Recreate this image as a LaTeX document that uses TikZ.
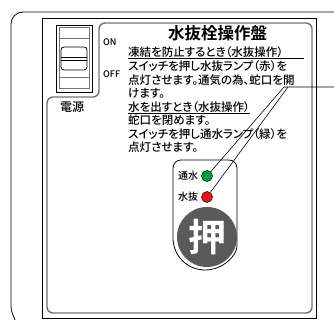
\documentclass[tikz,border=0pt]{standalone}
\usepackage{fontspec}
\usepackage{xcolor}
\newfontfamily\jpfont[RawFeature=+palt]{Noto Sans CJK JP Medium}
\newfontfamily\jpbold{Noto Sans CJK JP Bold}
\XeTeXlinebreaklocale "ja"
\XeTeXlinebreakskip=0pt plus 2pt
\definecolor{lampgreen}{HTML}{00A040}
\definecolor{lampred}{HTML}{E8141B}
\definecolor{buttongray}{HTML}{5A5A5A}

\begin{document}
\begin{tikzpicture}[x=1pt,y=1pt]
    % Define styles
    \tikzstyle{frame}=[draw, line width=0.8pt]
    \tikzstyle{innerframe}=[draw=black!55, line width=1.4pt, rounded corners=6pt]
    \tikzstyle{body}=[anchor=west, inner sep=0pt, font=\jpfont\fontsize{11.5}{13}\selectfont]
    \tikzstyle{small}=[inner sep=0pt, font=\jpfont\fontsize{9}{10}\selectfont]
    \tikzstyle{lamp}=[circle, draw, line width=0.5pt, minimum size=11pt, inner sep=0pt]

    \useasboundingbox (0,0) rectangle (334,-320);

    % Outer casing
    \draw[frame] (334,-12) -- (23,-12) arc[start angle=90, end angle=180, radius=12] -- (11,-306) to[out=-90, in=110] (15,-320);

    % Panel frame
    \draw[frame] (42,-18) rectangle (316,-318);
    \draw[innerframe] (47,-313) -- (47,-97) -- (99,-97) -- (99,-23) -- (312,-23) -- (312,-313) -- cycle;

    % Power switch
    \draw[frame] (56,-25) rectangle (92,-92);
    \draw[draw=black!55, line width=1pt] (59,-28) rectangle (89,-89);
    \draw[black!55] (59,-38) -- (89,-38);
    \draw[black!55] (59,-77) -- (89,-77);
    \draw[frame, fill=white, rounded corners=3pt] (61,-47) rectangle (87,-70);
    \draw (61,-57) -- (87,-57);
    \draw (61,-60) -- (87,-60);

    \node[small, anchor=west] (sw_on) at (103,-42) {ON};
    \node[small, anchor=west] (sw_off) at (103,-74) {OFF};
    \node[inner sep=0pt, font=\jpfont\fontsize{12}{13}\selectfont] (sw_label) at (72,-107) {電源};

    % Title and instructions
    \node[body, font=\jpbold\fontsize{16.5}{18}\selectfont] (title) at (168,-33) {\makebox[105pt][s]{水抜栓操作盤}};
    \node[body] (line1) at (128,-52) {\makebox[176pt][s]{凍結を防止するとき（水抜操作）}};
    \node[body] (line2) at (128,-66) {\makebox[176pt][s]{スイッチを押し水抜ランプ（赤）を}};
    \node[body] (line3) at (128,-80) {\makebox[176pt][s]{点灯させます。通気の為、蛇口を開}};
    \node[body] (line4) at (128,-93.5) {けます。};
    \node[body] (line5) at (128,-107) {水を出すとき（水抜操作）};
    \node[body] (line6) at (128,-120.5) {蛇口を閉めます。};
    \node[body] (line7) at (128,-134) {\makebox[176pt][s]{スイッチを押し通水ランプ（緑）を}};
    \node[body] (line8) at (128,-147.5) {点灯させます。};
    \draw[line width=0.6pt] ([yshift=-0.5pt]line1.south west) -- ([yshift=-0.5pt]line1.south east);
    \draw[line width=0.6pt] ([yshift=-0.5pt]line5.south west) -- ([yshift=-0.5pt]line5.south east);

    % Lamp and button holder
    \draw[frame, rounded corners=8pt] (173,-238) -- (173,-160) -- (237,-160) -- (237,-238) arc[start angle=0, end angle=-180, radius=32];

    \node[lamp, fill=lampgreen] (lamp_green) at (207,-176) {};
    \node[lamp, fill=lampred] (lamp_red) at (207,-197) {};
    \node[small, font=\jpfont\fontsize{10}{11}\selectfont] (lamp_green_label) at (188,-176) {通水};
    \node[small, font=\jpfont\fontsize{10}{11}\selectfont] (lamp_red_label) at (188,-197) {水抜};

    \node[circle, fill=buttongray, minimum size=60pt, inner sep=0pt, text=white, font=\jpbold\fontsize{38}{38}\selectfont] (push_button) at (207,-237) {押};

    % Callout lines to the lamps
    \coordinate (callout_end) at (334,-87);
    \coordinate (callout_a) at (284,-87);
    \coordinate (callout_b) at (288,-87);
    \draw[line width=0.6pt] (callout_end) -- (callout_a) -- (lamp_green);
    \draw[line width=0.6pt] (callout_b) -- (lamp_red);
\end{tikzpicture}
\end{document}
